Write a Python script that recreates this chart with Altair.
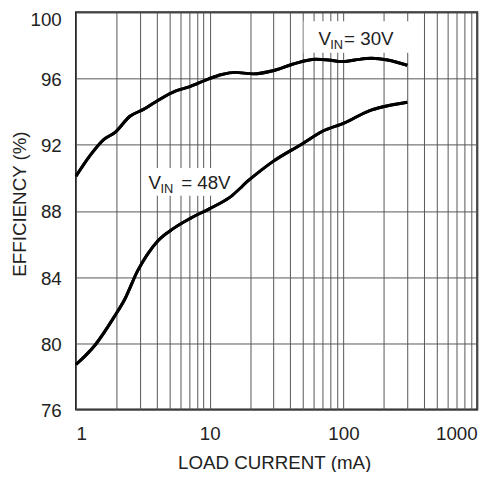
import altair as alt
import pandas as pd

# efficiency curves (load current in mA, efficiency in %)
i_30 = [1, 1.28, 1.61, 1.96, 2.53, 3.17, 3.87, 5.58, 7.0, 9.83, 12.3, 15.4, 21.1,
        29.6, 41.6, 61.8, 77.4, 97.1, 121.7, 161.7, 214, 300]
eff_30 = [90.1, 91.37, 92.31, 92.75, 93.72, 94.12, 94.55, 95.25, 95.49, 95.98, 96.24,
          96.37, 96.28, 96.47, 96.86, 97.16, 97.12, 97.02, 97.12, 97.22, 97.12, 96.8]

i_48 = [1, 1.39, 1.95, 2.31, 2.9, 3.43, 4.1, 5.4, 7.16, 10, 14.1, 19.9, 29.6,
        49.3, 69.2, 102.8, 152.5, 202.8, 300]
eff_48 = [78.72, 79.9, 81.66, 82.65, 84.41, 85.39, 86.2, 86.96, 87.55, 88.14,
          88.82, 89.9, 90.98, 92.06, 92.8, 93.33, 94.02, 94.31, 94.57]

x_labels = [1, 10, 100, 1000]
x_grid = [m * d for d in (1, 10, 100) for m in range(1, 10)] + [1000]
y_ticks = [76, 80, 84, 88, 92, 96, 100]

FONT = "Liberation Sans"
INK = "#222222"

curves = pd.concat([
    pd.DataFrame({"current": i_30, "eff": eff_30, "vin": "30V"}),
    pd.DataFrame({"current": i_48, "eff": eff_48, "vin": "48V"}),
])

x_scale = alt.Scale(type="log", domain=[1, 1000], nice=False)
y_scale = alt.Scale(domain=[76, 100], nice=False, zero=False)

x_axis = alt.Axis(
    values=x_grid, title="LOAD CURRENT (mA)",
    labelExpr="indexof([1, 10, 100, 1000], datum.value) >= 0 ? format(datum.value, 'd') : ''",
    labelBaseline="alphabetic", labelPadding=30, tickSize=0, ticks=False,
    titleBaseline="alphabetic", titleY=60, titleX=201, titleAlign="center",
)
y_axis = alt.Axis(
    values=y_ticks, title="EFFICIENCY (%)",
    labelAlign="right", labelBaseline="alphabetic", labelPadding=15,
    labelOffset={"condition": {"test": "datum.value == 100", "value": 13}, "value": 7},
    tickSize=0, ticks=False,
    titleAngle=270, titleBaseline="alphabetic", titleX=-51, titleY=194,
    titleAlign="center",
)

# white boxes behind the two labels
boxes = pd.DataFrame({
    "current": [50.4, 3.17], "current2": [310, 17.3],
    "eff": [99.46, 90.59], "eff2": [97.56, 88.92],
})
box_layer = alt.Chart(boxes).mark_rect(color="white").encode(
    x=alt.X("current:Q", scale=x_scale),
    x2="current2:Q",
    y=alt.Y("eff:Q", scale=y_scale),
    y2="eff2:Q",
)

lines = alt.Chart(curves).mark_line(
    color="black", strokeWidth=3, interpolate="monotone"
).encode(
    x=alt.X("current:Q", scale=x_scale, axis=x_axis),
    y=alt.Y("eff:Q", scale=y_scale, axis=y_axis),
    detail="vin:N",
)


def vin_label(current, eff, rest, rest_dx):
    anchor = pd.DataFrame({"current": [current], "eff": [eff]})
    base = alt.Chart(anchor).encode(
        x=alt.X("current:Q", scale=x_scale),
        y=alt.Y("eff:Q", scale=y_scale),
    )
    v = base.mark_text(text="V", align="left", baseline="alphabetic",
                       font=FONT, fontSize=19, color=INK)
    sub = base.mark_text(text="IN", align="left", baseline="alphabetic", dx=12, dy=4,
                         font=FONT, fontSize=13, color=INK)
    tail = base.mark_text(text=rest, align="left", baseline="alphabetic", dx=rest_dx,
                          font=FONT, fontSize=19, color=INK)
    return v + sub + tail


chart = alt.layer(
    lines, box_layer, lines,
    vin_label(65.0, 98.05, "= 30V", 26),
    vin_label(3.49, 89.32, "= 48V", 33),
).properties(
    width=407, height=403,
    autosize=alt.AutoSizeParams(type="none"),
    padding={"left": 69, "top": 1, "right": 15, "bottom": 60},
).configure_view(
    stroke=INK, strokeWidth=2
).configure_axis(
    domain=False, gridColor="#555555", gridWidth=1, gridOpacity=1,
    labelFont=FONT, labelFontSize=19, labelColor=INK,
    titleFont=FONT, titleFontSize=19, titleFontWeight="normal", titleColor=INK,
)

chart.save("out.html", embed_options={"renderer": "svg", "actions": False})
